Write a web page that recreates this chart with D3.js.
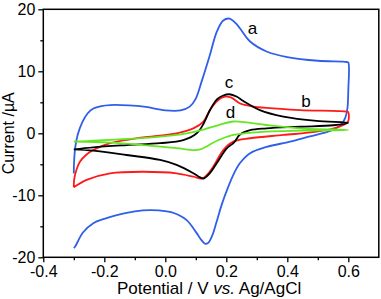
<!DOCTYPE html>
<html>
<head>
<meta charset="utf-8">
<script src="https://cdn.jsdelivr.net/npm/d3@7"></script>
<style>
  body { margin: 0; background: #fff; }
  svg text { font-family: "Liberation Sans", Arial, sans-serif; }
</style>
</head>
<body>
<div id="chart"></div>
<script>
// potential (V) / current (uA) pairs, one scan per curve
var curveA = [[-0.3,-6.5],[-0.299,-4.5],[-0.295,-2.2],[-0.287,-0.2],[-0.272,1.8],[-0.255,3.2],[-0.236,4.0],[-0.21,4.4],[-0.18,4.56],[-0.12,4.5],
  [-0.07,4.3],[0.0,3.7],[0.05,3.7],[0.08,4.3],[0.1,5.6],[0.12,8.5],[0.146,12.6],[0.169,16.4],[0.19,18.2],[0.21,18.5],
  [0.23,17.8],[0.245,16.9],[0.278,14.8],[0.332,13.2],[0.4,12.3],[0.5,11.7],[0.595,11.5],[0.6,11.4],[0.6,7],[0.597,4],
  [0.59,2.5],[0.575,1.3],[0.55,0.6],[0.529,0.2],[0.474,-0.5],[0.409,-1.35],[0.332,-2.2],[0.278,-3.2],[0.245,-4.8],
  [0.225,-6.5],[0.205,-8.8],[0.185,-11.5],[0.168,-14.3],[0.153,-16.6],[0.14,-17.7],[0.13,-17.8],[0.115,-17],[0.103,-16.1],
  [0.07,-14.0],[0.03,-12.9],[0.005,-12.6],[-0.05,-12.4],[-0.1,-12.6],[-0.159,-13.2],[-0.2,-13.8],[-0.236,-14.5],
  [-0.27,-16],[-0.296,-18.3],[-0.3,-18.5]];
var curveB = [[-0.3,-8.7],[-0.299,-7.5],[-0.292,-6],[-0.28,-4.6],[-0.26,-3.5],[-0.236,-2.7],[-0.181,-1.6],[-0.12,-1.0],
  [-0.072,-0.65],[0.037,0],[0.092,0.8],[0.125,1.9],[0.147,3.8],[0.17,5.2],[0.195,5.9],[0.215,5.8],[0.245,4.8],[0.28,4.4],
  [0.332,4.1],[0.442,3.75],[0.595,3.5],[0.6,3.4],[0.6,2.0],[0.59,1.5],[0.573,1.1],[0.496,0.26],[0.387,-0.27],[0.278,-0.8],
  [0.223,-1.35],[0.19,-2.7],[0.157,-5.4],[0.135,-6.8],[0.119,-7.3],[0.092,-7.0],[0.037,-6.45],[-0.072,-6.2],[-0.181,-6.45],
  [-0.258,-7.5],[-0.3,-8.7]];
var curveC = [[-0.3,-2.6],[-0.236,-2.26],[-0.127,-1.9],[-0.017,-1.6],[0.059,-1.1],[0.103,0],[0.125,1.5],[0.147,3.8],
  [0.17,5.5],[0.19,6.1],[0.21,6.3],[0.235,5.9],[0.256,5.2],[0.31,3.75],[0.387,2.7],[0.496,2.0],[0.6,1.7],[0.551,1.3],
  [0.442,1.06],[0.332,0.8],[0.278,0.5],[0.245,-0.2],[0.225,-1.5],[0.2,-2.5],[0.169,-4.8],[0.145,-6.5],[0.125,-7.3],
  [0.11,-7.0],[0.092,-6.45],[0.037,-5.1],[-0.017,-4.3],[-0.127,-3.5],[-0.236,-2.8],[-0.3,-2.6]];
var curveD = [[-0.3,-1.35],[-0.236,-1.2],[-0.127,-0.92],[-0.017,-0.55],[0.07,0],[0.125,0.6],[0.18,1.4],[0.223,1.9],
  [0.26,1.8],[0.332,1.34],[0.442,0.8],[0.6,0.53],[0.442,0.42],[0.332,0.26],[0.223,-0.27],[0.2,-0.6],[0.169,-1.2],
  [0.14,-2.0],[0.115,-2.6],[0.095,-2.7],[0.037,-2.4],[-0.072,-1.9],[-0.181,-1.5],[-0.3,-1.35]];

var curveNames = ["a", "b", "c", "d"];
var curveColors = ["#2f5fe8", "#ff1a1a", "#000000", "#66e622"];
// label anchor points (V, uA), text baseline
var labelPos = [[0.286, 16.0], [0.461, 4.3], [0.209, 7.25], [0.214, 2.47]];

var xTicks = [-0.4, -0.2, 0.0, 0.2, 0.4, 0.6];
var yTicks = [-20, -10, 0, 10, 20];

var width = 381, height = 299;
var margin = { top: 9.3, right: 2.2, bottom: 41.7, left: 43.3 };
var w = width - margin.left - margin.right,
    h = height - margin.top - margin.bottom;

var svg = d3.select('#chart').append('svg')
    .attr('width', width)
    .attr('height', height);

var g = svg.append('g')
    .attr('transform', 'translate(' + margin.left + ',' + margin.top + ')');

var x = d3.scaleLinear().domain([-0.4, 0.7]).range([0, w]);
var y = d3.scaleLinear().domain([-20, 20]).range([h, 0]);

// plain hyphen minus like the original
function fmt(f) {
    return function(d) { return d3.format(f)(d).replace('\u2212', '-'); };
}

// minor ticks first, then major ones with labels
g.append('g')
    .attr('transform', 'translate(0,' + h + ')')
    .call(d3.axisBottom(x).tickValues([-0.3, -0.1, 0.1, 0.3, 0.5]).tickSize(3).tickFormat(''));
g.append('g')
    .call(d3.axisLeft(y).tickValues([-15, -5, 5, 15]).tickSize(3).tickFormat(''));

g.append('g')
    .attr('transform', 'translate(0,' + h + ')')
    .call(d3.axisBottom(x).tickValues(xTicks).tickSize(5).tickPadding(3).tickFormat(fmt('.1f')));
g.append('g')
    .call(d3.axisLeft(y).tickValues(yTicks).tickSize(5).tickPadding(3).tickFormat(fmt('d')));

g.selectAll('.domain').remove();
g.selectAll('.tick line').attr('stroke', '#000').attr('stroke-width', 1.3);
g.selectAll('.tick text').attr('fill', '#000').style('font-size', '16px');

var line = d3.line()
    .x(function(d) { return x(d[0]); })
    .y(function(d) { return y(d[1]); })
    .curve(d3.curveCatmullRom.alpha(0.5));

[curveA, curveB, curveC, curveD].forEach(function(c, i) {
    g.append('path')
        .datum(c)
        .attr('d', line)
        .attr('fill', 'none')
        .attr('stroke', curveColors[i])
        .attr('stroke-width', 1.8)
        .attr('stroke-linejoin', 'round');
});

g.selectAll('.curveLabel')
    .data(curveNames)
    .enter().append('text')
    .attr('class', 'curveLabel')
    .attr('x', function(d, i) { return x(labelPos[i][0]); })
    .attr('y', function(d, i) { return y(labelPos[i][1]); })
    .attr('text-anchor', 'middle')
    .style('font-size', '17px')
    .text(function(d) { return d; });

// frame
g.append('rect')
    .attr('width', w)
    .attr('height', h)
    .attr('fill', 'none')
    .attr('stroke', '#000')
    .attr('stroke-width', 1.5);

svg.append('text')
    .attr('transform', 'translate(14,' + (margin.top + h / 2) + ') rotate(-90)')
    .attr('text-anchor', 'middle')
    .style('font-size', '16px')
    .text('Current /\u00b5A');

var xt = svg.append('text')
    .attr('x', margin.left + w / 2 - 2)
    .attr('y', 294)
    .attr('text-anchor', 'middle')
    .style('font-size', '17px');
xt.append('tspan').text('Potential / V  ');
xt.append('tspan').style('font-style', 'italic').text('vs.');
xt.append('tspan').text(' Ag/AgCl');
</script>
</body>
</html>
